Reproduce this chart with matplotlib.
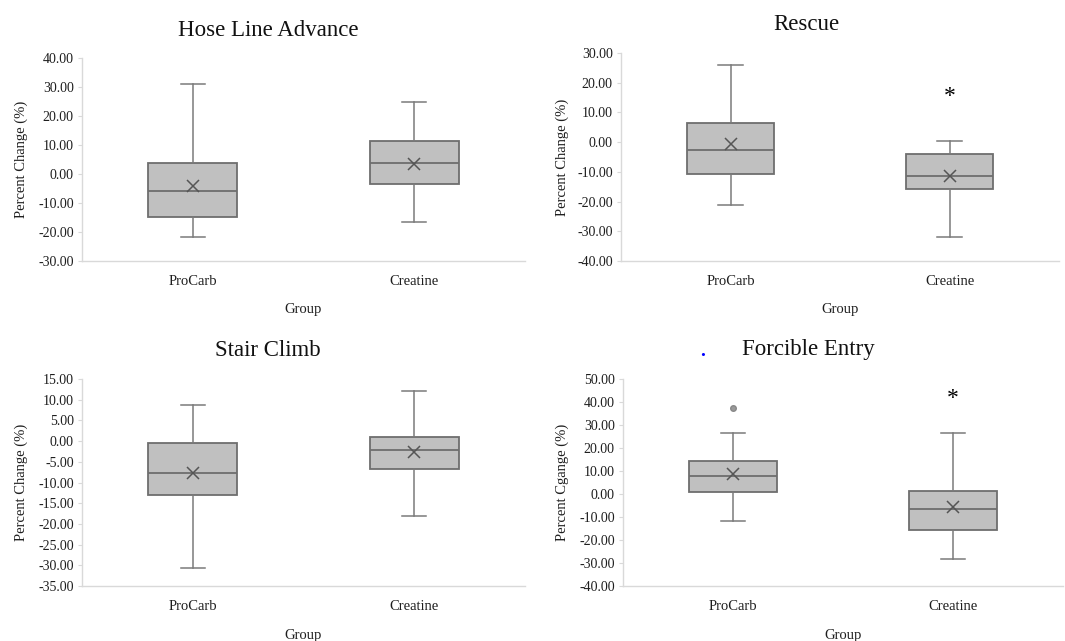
import matplotlib
matplotlib.use("Agg")
import matplotlib.pyplot as plt
from matplotlib.ticker import MultipleLocator, FuncFormatter

plt.rcParams['font.family'] = ['Liberation Serif', 'DejaVu Serif']

W, H = 1065, 641

groups = ['ProCarb', 'Creatine']
titles = ['Hose Line Advance', 'Rescue', 'Stair Climb', 'Forcible Entry']
ylabels = ['Percent Change (%)', 'Percent Change (%)', 'Percent Change (%)', 'Percent Cgange (%)']

# box stats per panel: [ProCarb, Creatine]
whislo = [[-21.7, -16.4], [-21.1, -31.8], [-30.6, -18.2], [-11.9, -28.1]]
q1 = [[-14.7, -3.3], [-10.6, -15.7], [-13.0, -6.7], [0.7, -15.5]]
med = [[-5.9, 3.8], [-2.7, -11.3], [-7.8, -2.2], [7.8, -6.7]]
q3 = [[3.8, 11.3], [6.4, -3.9], [-0.4, 0.9], [14.2, 1.2]]
whishi = [[30.9, 24.9], [26.0, 0.4], [8.8, 12.0], [26.4, 26.4]]
means = [[-4.0, 3.5], [-0.6, -11.3], [-7.6, -2.6], [8.8, -5.7]]
fliers = [[[], []], [[], []], [[], []], [[37.5], []]]
# significance asterisk (group index, y value) per panel
stars = [None, (1, 16.7), None, (1, 43.5)]

ylims = [(-30, 40), (-40, 30), (-35, 15), (-40, 50)]
ysteps = [10, 10, 5, 10]

# axes boxes in pixels: left, right, top, bottom
boxes = [(82, 525, 58, 261), (621, 1059, 53, 261), (82, 525, 379, 586), (623, 1063, 379, 586)]
title_pos = [(268, 30), (806, 25), (268, 350), (808, 350)]

fig = plt.figure(figsize=(W / 100, H / 100), dpi=100)
fig.patch.set_facecolor('white')

edge = '#6e6e6e'
spine = '#d9d9d9'
txt = '#1e1e1e'

for i in range(4):
    l, r, t, b = boxes[i]
    ax = fig.add_axes([l / W, 1 - b / H, (r - l) / W, (b - t) / H])
    stats = []
    for j in range(2):
        stats.append(dict(whislo=whislo[i][j], q1=q1[i][j], med=med[i][j], q3=q3[i][j],
                          whishi=whishi[i][j], mean=means[i][j], fliers=fliers[i][j]))
    ax.bxp(stats, positions=[1, 2], widths=0.4, patch_artist=True, showmeans=True,
           boxprops=dict(facecolor='#c0c0c0', edgecolor=edge, linewidth=1.3),
           medianprops=dict(color=edge, linewidth=1.3),
           whiskerprops=dict(color='#7a7a7a', linewidth=1.1),
           capprops=dict(color='#7a7a7a', linewidth=1.1),
           capwidths=0.11,
           meanprops=dict(marker='x', markeredgecolor='#555555', markersize=8, markeredgewidth=1.1),
           flierprops=dict(marker='o', markerfacecolor='#9a9a9a', markeredgecolor='#888888', markersize=4))
    if stars[i] is not None:
        gi, yv = stars[i]
        ax.annotate('*', xy=(gi + 1, yv), xytext=(0, -3), textcoords='offset points',
                    ha='center', va='center', fontsize=17, color='black')

    ax.set_xlim(0.5, 2.5)
    ax.set_ylim(*ylims[i])
    ax.yaxis.set_major_locator(MultipleLocator(ysteps[i]))
    ax.yaxis.set_major_formatter(FuncFormatter(lambda v, p: f"{v:.2f}".replace('-0.00', '0.00')))
    ax.set_xticks([1, 2])
    ax.set_xticklabels(groups)
    ax.tick_params(axis='x', length=0, pad=10, labelsize=10.5, colors=txt)
    ax.tick_params(axis='y', length=3, width=0.8, color=spine, pad=3, labelsize=10, labelcolor=txt)
    for s in ['top', 'right']:
        ax.spines[s].set_visible(False)
    for s in ['left', 'bottom']:
        ax.spines[s].set_color(spine)
        ax.spines[s].set_linewidth(1.0)

    cx = (l + r) / 2
    cy = (t + b) / 2
    fig.text(cx / W, 1 - (b + 49) / H, 'Group', ha='center', va='center', fontsize=10.5, color=txt)
    lx = 21 if l < 300 else 562
    fig.text(lx / W, 1 - cy / H, ylabels[i], ha='center', va='center', rotation=90, fontsize=10.5, color=txt)
    tx, ty = title_pos[i]
    fig.text(tx / W, 1 - ty / H, titles[i], ha='center', va='center', fontsize=16.5, color='#111111')

# stray blue dot near the last title
fig.text(703 / W, 1 - 351 / H, '.', ha='center', va='center', fontsize=14, fontweight='bold', color='blue')

fig.savefig('out.png', dpi=100, facecolor='white')
